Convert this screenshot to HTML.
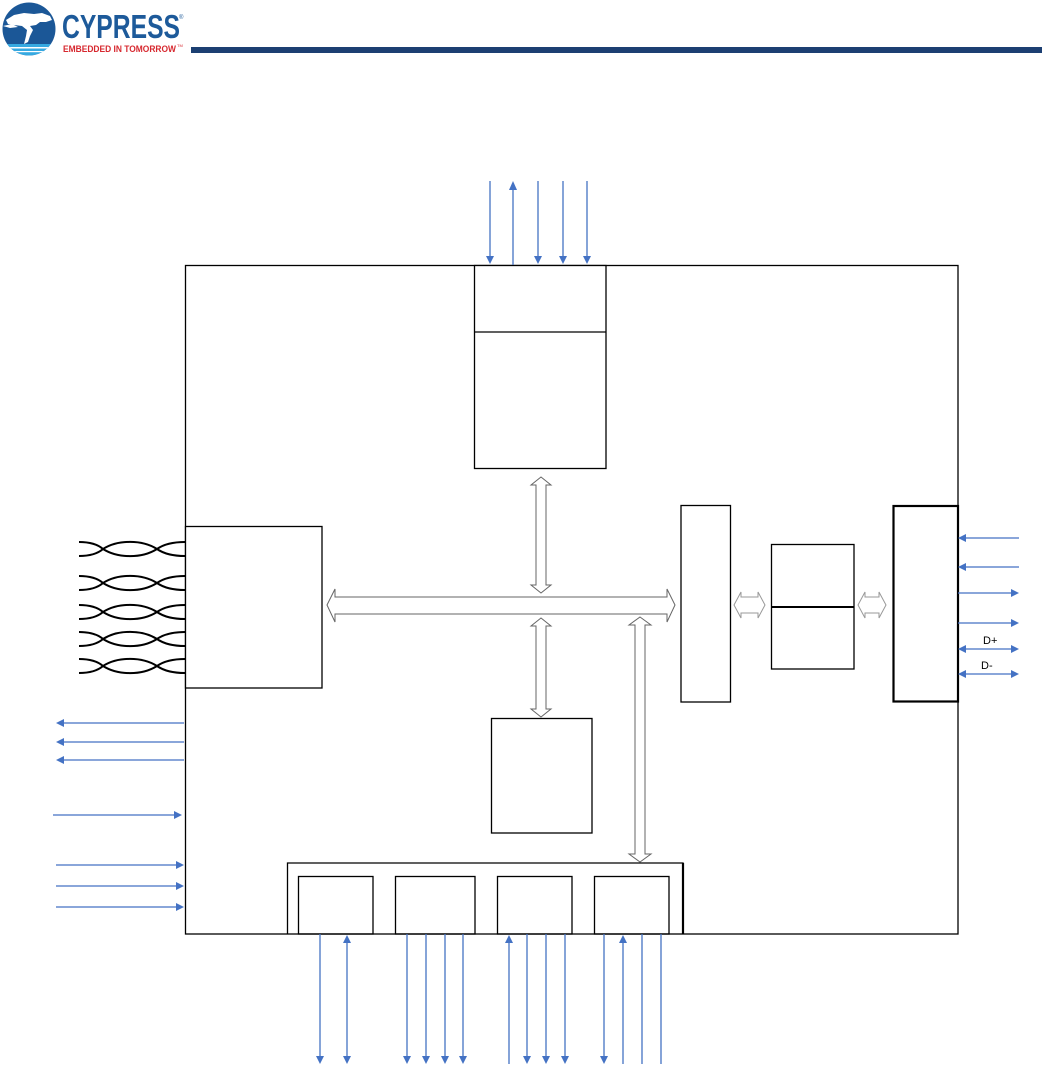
<!DOCTYPE html>
<html><head><meta charset="utf-8"><style>
html,body{margin:0;padding:0;background:#fff;}
svg{display:block;}
</style></head><body>
<svg width="1042" height="1067" viewBox="0 0 1042 1067" xmlns="http://www.w3.org/2000/svg" font-family="Liberation Sans, Arial, sans-serif">
<defs>
<clipPath id="lc"><circle cx="29" cy="29" r="26.5"/></clipPath>
</defs>
<!-- Logo -->
<g clip-path="url(#lc)">
<rect x="0" y="0" width="60" height="60" fill="#1b5797"/>
<rect x="0" y="44" width="60" height="16" fill="#36a9e1"/>
<rect x="0" y="47" width="60" height="1.5" fill="#fff"/>
<rect x="0" y="51" width="60" height="1.2" fill="#fff"/>
<path d="M6 20 L14 15 L24 13 L34 14 L42 13 L50 16 L52 20 L46 22 L40 22 L36 25 L30 26 L33 30 L30 36 L28 42 L24 44 L26 36 L27 30 L22 26 L14 25 L8 24 Z" fill="#fff"/>
<path d="M3 26 L12 24 L18 27 L10 28 Z" fill="#fff"/>
</g>
<text x="62" y="38" font-size="33" font-weight="bold" fill="#1d5a9a" textLength="118" lengthAdjust="spacingAndGlyphs">CYPRESS</text>
<text x="179" y="19" font-size="6" fill="#1d5a9a">®</text>
<text x="63" y="52" font-size="9.5" font-weight="bold" fill="#d7282f" textLength="113" lengthAdjust="spacingAndGlyphs">EMBEDDED IN TOMORROW</text>
<text x="177" y="47" font-size="4" fill="#d7282f">TM</text>
<rect x="191" y="47" width="851" height="6" fill="#1c3f72"/>

<!-- Main box -->
<rect x="185.5" y="265.5" width="772.5" height="668.5" fill="none" stroke="#000" stroke-width="1.3"/>

<!-- Top box -->
<rect x="474.5" y="265.5" width="131.5" height="203" fill="#fff" stroke="#000" stroke-width="1.3"/>
<line x1="474.5" y1="332" x2="606" y2="332" stroke="#000" stroke-width="1.3"/>

<!-- Top arrows -->
<g stroke="#4472c4" stroke-width="1.3" fill="#4472c4">
<line x1="490" y1="181" x2="490" y2="258"/><path d="M486 256 L494 256 L490 264 Z" stroke="none"/>
<line x1="513" y1="188" x2="513" y2="265"/><path d="M509 190 L517 190 L513 181 Z" stroke="none"/>
<line x1="538" y1="181" x2="538" y2="258"/><path d="M534 256 L542 256 L538 264 Z" stroke="none"/>
<line x1="563" y1="181" x2="563" y2="258"/><path d="M559 256 L567 256 L563 264 Z" stroke="none"/>
<line x1="587" y1="181" x2="587" y2="258"/><path d="M583 256 L591 256 L587 264 Z" stroke="none"/>
</g>

<!-- Left box -->
<rect x="185.5" y="526.5" width="136.5" height="161.5" fill="#fff" stroke="#000" stroke-width="1.3"/>

<!-- Twisted pairs -->
<g fill="none" stroke="#000" stroke-width="2">
<path d="M79 542 Q95 542 103 549 C118 539.5 142 539.5 157 549 Q167 542 185 542"/>
<path d="M79 556 Q95 556 103 549 C118 558.5 142 558.5 157 549 Q167 556 185 556"/>
<path d="M79 576 Q95 576 103 583 C118 573.5 142 573.5 157 583 Q167 576 185 576"/>
<path d="M79 590 Q95 590 103 583 C118 592.5 142 592.5 157 583 Q167 590 185 590"/>
<path d="M79 605 Q95 605 103 612 C118 602.5 142 602.5 157 612 Q167 605 185 605"/>
<path d="M79 619 Q95 619 103 612 C118 621.5 142 621.5 157 612 Q167 619 185 619"/>
<path d="M79 632 Q95 632 103 639 C118 629.5 142 629.5 157 639 Q167 632 185 632"/>
<path d="M79 646 Q95 646 103 639 C118 648.5 142 648.5 157 639 Q167 646 185 646"/>
<path d="M79 659 Q95 659 103 666 C118 656.5 142 656.5 157 666 Q167 659 185 659"/>
<path d="M79 673 Q95 673 103 666 C118 675.5 142 675.5 157 666 Q167 673 185 673"/>
</g>

<!-- Hollow bus arrows -->
<g fill="#fff" stroke="#666" stroke-width="1">
<path d="M327 605 L335 589 L335 597 L667 597 L667 589 L675 605 L667 622 L667 614 L335 614 L335 622 Z"/>
<path d="M541 477 L551 485 L546 485 L546 585 L551 585 L541 593 L531 585 L536 585 L536 485 L531 485 Z"/>
<path d="M541 618 L551 626 L546 626 L546 709 L551 709 L541 717 L531 709 L536 709 L536 626 L531 626 Z"/>
<path d="M640 617 L651 625 L645 625 L645 854 L651 854 L640 862 L629 854 L635 854 L635 625 L629 625 Z"/>
<path d="M734 605 L741 592 L741 597 L758 597 L758 592 L765 605 L758 618 L758 613 L741 613 L741 618 Z" stroke="#999"/>
<path d="M858 605 L865 592 L865 597 L879 597 L879 592 L886 605 L879 618 L879 613 L865 613 L865 618 Z" stroke="#999"/>
</g>

<!-- Right column box -->
<rect x="681" y="505.5" width="49.5" height="196.5" fill="none" stroke="#000" stroke-width="1.3"/>
<!-- Middle stacked boxes -->
<rect x="771.5" y="544.5" width="82.5" height="124.5" fill="none" stroke="#000" stroke-width="1.3"/>
<line x1="771.5" y1="607" x2="854" y2="607" stroke="#000" stroke-width="2"/>
<!-- Right box -->
<rect x="893.5" y="506" width="64.5" height="195.5" fill="none" stroke="#000" stroke-width="2.2"/>

<!-- Right arrows -->
<g stroke="#4472c4" stroke-width="1.3" fill="#4472c4">
<line x1="965" y1="538" x2="1019" y2="538"/><path d="M958 538 L966 534 L966 542 Z" stroke="none"/>
<line x1="965" y1="567" x2="1019" y2="567"/><path d="M958 567 L966 563 L966 571 Z" stroke="none"/>
<line x1="958" y1="593" x2="1012" y2="593"/><path d="M1019 593 L1011 589 L1011 597 Z" stroke="none"/>
<line x1="958" y1="623" x2="1012" y2="623"/><path d="M1019 623 L1011 619 L1011 627 Z" stroke="none"/>
<line x1="965" y1="649" x2="1012" y2="649"/><path d="M958 649 L966 645 L966 653 Z" stroke="none"/><path d="M1019 649 L1011 645 L1011 653 Z" stroke="none"/>
<line x1="965" y1="674" x2="1012" y2="674"/><path d="M958 674 L966 670 L966 678 Z" stroke="none"/><path d="M1019 674 L1011 670 L1011 678 Z" stroke="none"/>
</g>
<text x="983" y="644" font-size="11" fill="#000">D+</text>
<text x="981" y="669" font-size="11" fill="#000">D-</text>

<!-- Left arrows -->
<g stroke="#4472c4" stroke-width="1.3" fill="#4472c4">
<line x1="63" y1="723" x2="184" y2="723"/><path d="M56 723 L64 719 L64 727 Z" stroke="none"/>
<line x1="63" y1="742" x2="184" y2="742"/><path d="M56 742 L64 738 L64 746 Z" stroke="none"/>
<line x1="63" y1="760" x2="184" y2="760"/><path d="M56 760 L64 756 L64 764 Z" stroke="none"/>
<line x1="53" y1="815" x2="175" y2="815"/><path d="M182 815 L174 811 L174 819 Z" stroke="none"/>
<line x1="56" y1="865" x2="177" y2="865"/><path d="M184 865 L176 861 L176 869 Z" stroke="none"/>
<line x1="56" y1="886" x2="177" y2="886"/><path d="M184 886 L176 882 L176 890 Z" stroke="none"/>
<line x1="56" y1="907" x2="177" y2="907"/><path d="M184 907 L176 903 L176 911 Z" stroke="none"/>
</g>

<!-- Bottom middle box -->
<rect x="491.5" y="718.5" width="100.5" height="114.5" fill="#fff" stroke="#000" stroke-width="1.3"/>

<!-- Bottom peripheral container -->
<path d="M287.5 934 L287.5 863 L683 863 L683 934" fill="none" stroke="#000" stroke-width="1.3"/>
<line x1="683" y1="863" x2="683" y2="934" stroke="#000" stroke-width="2.2"/>
<rect x="298.5" y="876.5" width="74.5" height="57.5" fill="none" stroke="#000" stroke-width="1.3"/>
<rect x="395.5" y="876.5" width="79.5" height="57.5" fill="none" stroke="#000" stroke-width="1.3"/>
<rect x="497.5" y="876.5" width="74.5" height="57.5" fill="none" stroke="#000" stroke-width="1.3"/>
<rect x="594.5" y="876.5" width="74.5" height="57.5" fill="none" stroke="#000" stroke-width="1.3"/>

<!-- Bottom arrows -->
<g stroke="#4472c4" stroke-width="1.3" fill="#4472c4">
<line x1="320" y1="934" x2="320" y2="1057"/><path d="M316 1056 L324 1056 L320 1064 Z" stroke="none"/>
<line x1="347" y1="942" x2="347" y2="1057"/><path d="M343 943 L351 943 L347 935 Z" stroke="none"/><path d="M343 1056 L351 1056 L347 1064 Z" stroke="none"/>
<line x1="407" y1="934" x2="407" y2="1057"/><path d="M403 1056 L411 1056 L407 1064 Z" stroke="none"/>
<line x1="426" y1="934" x2="426" y2="1057"/><path d="M422 1056 L430 1056 L426 1064 Z" stroke="none"/>
<line x1="445" y1="934" x2="445" y2="1057"/><path d="M441 1056 L449 1056 L445 1064 Z" stroke="none"/>
<line x1="463" y1="934" x2="463" y2="1057"/><path d="M459 1056 L467 1056 L463 1064 Z" stroke="none"/>
<line x1="509" y1="942" x2="509" y2="1064"/><path d="M505 943 L513 943 L509 935 Z" stroke="none"/>
<line x1="527" y1="934" x2="527" y2="1057"/><path d="M523 1056 L531 1056 L527 1064 Z" stroke="none"/>
<line x1="546" y1="934" x2="546" y2="1057"/><path d="M542 1056 L550 1056 L546 1064 Z" stroke="none"/>
<line x1="565" y1="934" x2="565" y2="1057"/><path d="M561 1056 L569 1056 L565 1064 Z" stroke="none"/>
<line x1="604" y1="934" x2="604" y2="1057"/><path d="M600 1056 L608 1056 L604 1064 Z" stroke="none"/>
<line x1="623" y1="942" x2="623" y2="1064"/><path d="M619 943 L627 943 L623 935 Z" stroke="none"/>
<line x1="642" y1="934" x2="642" y2="1064"/>
<line x1="661" y1="934" x2="661" y2="1064"/>
</g>
</svg>
</body></html>
